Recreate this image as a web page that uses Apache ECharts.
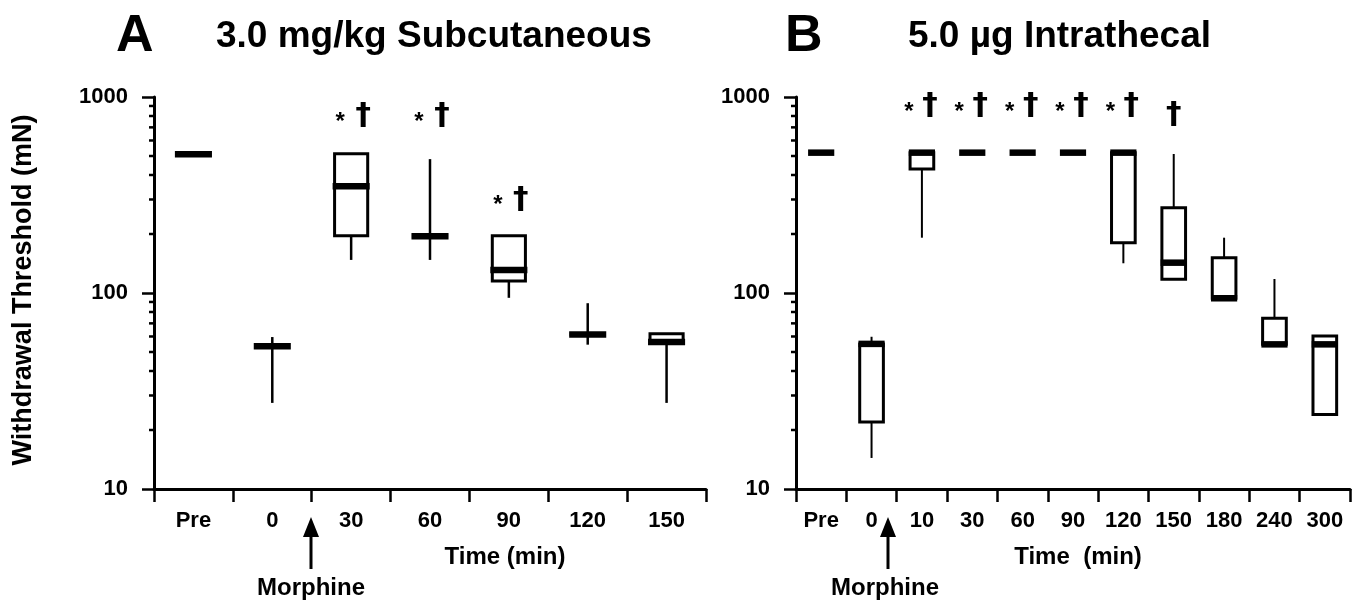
<!DOCTYPE html>
<html><head><meta charset="utf-8">
<script src="https://cdn.jsdelivr.net/npm/echarts@6/dist/echarts.min.js"></script>
<style>html,body{margin:0;padding:0;background:#fff}#c{width:1362px;height:604px}</style>
</head><body><div id="c"></div>
<script>
// ---------- data ----------
const categoriesA = ['Pre', '0', '30', '60', '90', '120', '150'];
const minA = [510, 27.5, 147.5, 147.5, 94.5, 54.5, 27.5];
const q1A  = [510, 53.5, 196,   195,   115,  61.5, 55.4];
const medA = [510, 53.5, 350,   195,   131,  61.5, 56.3];
const q3A  = [510, 53.5, 514,   197,   196,  62,   62];
const maxA = [510, 59.6, 514,   482,   196,  88.7, 62];

const categoriesB = ['Pre', '0', '10', '30', '60', '90', '120', '150', '180', '240', '300'];
const minB = [520, 14.4, 191.5, 520, 520, 520, 141.8, 117.5, 94,    54.7, 24];
const q1B  = [520, 22,   429.5, 520, 520, 520, 180.6, 117.5, 94,    54.7, 24];
const medB = [520, 55,   520,   520, 520, 520, 520,   142.8, 94,    54.7, 54.7];
const q3B  = [520, 55,   520,   520, 520, 520, 520,   272.5, 151.4, 74.3, 60.3];
const maxB = [520, 59.8, 520,   520, 520, 520, 520,   512,   191.5, 117.9, 60.3];

const yMajorTicks = [10, 100, 1000];
const yMinorTicks = [20, 30, 40, 50, 60, 70, 80, 90, 200, 300, 400, 500, 600, 700, 800, 900];

// significance marks (* and †)
const markCatsA = ['30', '60', '90'];
const markValA  = [800, 800, 300];
const markStarA = [1, 1, 1];
const markCatsB = ['10', '30', '60', '90', '120', '150'];
const markValB  = [900, 900, 900, 900, 900, 810];
const markStarB = [1, 1, 1, 1, 1, 0];

// ---------- rendering ----------
const FONT = '"Liberation Sans", Arial, Helvetica, sans-serif';
const DAGFONT = '"DejaVu Sans", "Liberation Sans", sans-serif';
const chart = echarts.init(document.getElementById('c'));

function boxRenderer(cfg) {
  return function (params, api) {
    const c = api.value(0);
    const lo = api.value(1), q1 = api.value(2), md = api.value(3), q3 = api.value(4), hi = api.value(5);
    const band = api.size([1, 1])[0];
    const pLo = api.coord([c, lo]), pHi = api.coord([c, hi]);
    const pQ1 = api.coord([c, q1]), pQ3 = api.coord([c, q3]), pMd = api.coord([c, md]);
    const cx = pMd[0];
    const children = [];
    if (Math.abs(pLo[1] - pHi[1]) > 0.5) {
      children.push({type: 'line', shape: {x1: cx, y1: pLo[1], x2: cx, y2: pHi[1]},
        style: {stroke: '#000', lineWidth: cfg.whisker}});
    }
    const bw = band * cfg.box;
    if (pQ1[1] - pQ3[1] > 0.5) {
      children.push({type: 'rect', shape: {x: cx - bw / 2, y: pQ3[1], width: bw, height: pQ1[1] - pQ3[1]},
        style: {fill: '#fff', stroke: '#000', lineWidth: cfg.boxLine}});
    }
    const mw = band * cfg.med;
    children.push({type: 'line', shape: {x1: cx - mw / 2, y1: pMd[1], x2: cx + mw / 2, y2: pMd[1]},
      style: {stroke: '#000', lineWidth: cfg.medLine}});
    return {type: 'group', children};
  };
}

function minorTickRenderer(params, api) {
  const c = api.value(0);
  const band = api.size([1, 1])[0];
  const p = api.coord([c, api.value(1)]);
  const ax = p[0] - band / 2;
  return {type: 'line', shape: {x1: ax - 5, y1: p[1], x2: ax, y2: p[1]}, style: {stroke: '#000', lineWidth: 2.5}};
}

function daggerEl(x, y) {
  return {type: 'text', x, y,
    style: {text: '†', fontSize: 31, fontWeight: 'bold', fontFamily: DAGFONT, fill: '#000', align: 'center', verticalAlign: 'middle'}};
}
function markRenderer(cfg) {
  return function (params, api) {
    const c = api.value(0);
    const p = api.coord([c, api.value(1)]);
    const star = api.value(2);
    const children = [];
    if (star) {
      children.push({type: 'text', x: p[0] + cfg.starOff, y: p[1] + 6,
        style: {text: '*', fontSize: 24, fontWeight: 'bold', fontFamily: FONT, fill: '#000', align: 'center', verticalAlign: 'middle'}});
      children.push(daggerEl(p[0] + cfg.dagOff, p[1]));
    } else {
      children.push(daggerEl(p[0], p[1]));
    }
    return {type: 'group', children};
  };
}

function boxData(cats, mn, a, m, b, mx) {
  return cats.map((c, i) => [c, mn[i], a[i], m[i], b[i], mx[i]]);
}
function markData(cats, vals, stars) {
  return cats.map((c, i) => [c, vals[i], stars[i]]);
}

const axisLabelStyle = {fontFamily: FONT, fontWeight: 'bold', fontSize: 22, color: '#000'};

function xAxisFor(cats, gridIndex) {
  return {
    type: 'category', gridIndex, data: cats, boundaryGap: true,
    axisLine: {show: true, lineStyle: {color: '#000', width: 3}},
    axisTick: {show: true, length: 13, lineStyle: {color: '#000', width: 2.5}, alignWithLabel: false},
    axisLabel: Object.assign({margin: 21, interval: 0}, axisLabelStyle),
    splitLine: {show: false}
  };
}
function yAxisFor(gridIndex) {
  return {
    type: 'log', logBase: 10, gridIndex, min: yMajorTicks[0], max: yMajorTicks[yMajorTicks.length - 1],
    axisLine: {show: true, lineStyle: {color: '#000', width: 3}},
    axisTick: {show: true, length: 12, lineStyle: {color: '#000', width: 2.5}},
    axisLabel: Object.assign({margin: 26, formatter: v => String(Math.round(v))}, axisLabelStyle),
    splitLine: {show: false}, minorTick: {show: false}
  };
}

const textStyle = (t, size) => ({text: t, fontFamily: FONT, fontWeight: 'bold', fontSize: size, fill: '#000'});

function arrow(x, yTop, yBot) {
  return {
    type: 'group', children: [
      {type: 'line', shape: {x1: x, y1: yBot, x2: x, y2: yTop + 14}, style: {stroke: '#000', lineWidth: 3}},
      {type: 'polygon', shape: {points: [[x, yTop], [x - 8, yTop + 20], [x + 8, yTop + 20]]}, style: {fill: '#000'}}
    ]
  };
}

const option = {
  backgroundColor: '#fff',
  animation: false,
  grid: [
    {left: 154, top: 97, width: 552, height: 392, outerBoundsMode: 'none'},
    {left: 796, top: 97, width: 554, height: 392, outerBoundsMode: 'none'}
  ],
  xAxis: [xAxisFor(categoriesA, 0), xAxisFor(categoriesB, 1)],
  yAxis: [yAxisFor(0), yAxisFor(1)],
  series: [
    {type: 'custom', xAxisIndex: 0, yAxisIndex: 0, renderItem: minorTickRenderer,
      data: yMinorTicks.map(v => [categoriesA[0], v]), encode: {x: 0, y: 1}},
    {type: 'custom', xAxisIndex: 1, yAxisIndex: 1, renderItem: minorTickRenderer,
      data: yMinorTicks.map(v => [categoriesB[0], v]), encode: {x: 0, y: 1}},
    {type: 'custom', xAxisIndex: 0, yAxisIndex: 0,
      renderItem: boxRenderer({box: 0.42, med: 0.47, whisker: 2.5, boxLine: 3, medLine: 6.5}),
      data: boxData(categoriesA, minA, q1A, medA, q3A, maxA), encode: {x: 0, y: [1, 2, 3, 4, 5]}},
    {type: 'custom', xAxisIndex: 1, yAxisIndex: 1,
      renderItem: boxRenderer({box: 0.47, med: 0.52, whisker: 2, boxLine: 3, medLine: 6.5}),
      data: boxData(categoriesB, minB, q1B, medB, q3B, maxB), encode: {x: 0, y: [1, 2, 3, 4, 5]}},
    {type: 'custom', xAxisIndex: 0, yAxisIndex: 0, renderItem: markRenderer({starOff: -11, dagOff: 12}),
      data: markData(markCatsA, markValA, markStarA), encode: {x: 0, y: 1}},
    {type: 'custom', xAxisIndex: 1, yAxisIndex: 1, renderItem: markRenderer({starOff: -13, dagOff: 8}),
      data: markData(markCatsB, markValB, markStarB), encode: {x: 0, y: 1}}
  ],
  graphic: [
    {type: 'text', x: 116, y: 37, style: Object.assign(textStyle('A', 52), {verticalAlign: 'middle'})},
    {type: 'text', x: 216, y: 37, style: Object.assign(textStyle('3.0 mg/kg Subcutaneous', 37), {verticalAlign: 'middle'})},
    {type: 'text', x: 785, y: 37, style: Object.assign(textStyle('B', 52), {verticalAlign: 'middle'})},
    {type: 'text', x: 908, y: 37, style: Object.assign(textStyle('5.0 µg Intrathecal', 37), {verticalAlign: 'middle'})},
    {type: 'text', x: 24, y: 290, rotation: Math.PI / 2,
      style: Object.assign(textStyle('Withdrawal Threshold (mN)', 27), {align: 'center', verticalAlign: 'middle'})},
    {type: 'text', x: 505, y: 557, style: Object.assign(textStyle('Time (min)', 24), {align: 'center', verticalAlign: 'middle'})},
    {type: 'text', x: 1078, y: 557, style: Object.assign(textStyle('Time  (min)', 24), {align: 'center', verticalAlign: 'middle'})},
    {type: 'text', x: 311, y: 588, style: Object.assign(textStyle('Morphine', 24), {align: 'center', verticalAlign: 'middle'})},
    {type: 'text', x: 885, y: 588, style: Object.assign(textStyle('Morphine', 24), {align: 'center', verticalAlign: 'middle'})},
    arrow(311, 517, 569),
    arrow(888, 517, 569)
  ]
};
chart.setOption(option);
</script>
</body></html>
